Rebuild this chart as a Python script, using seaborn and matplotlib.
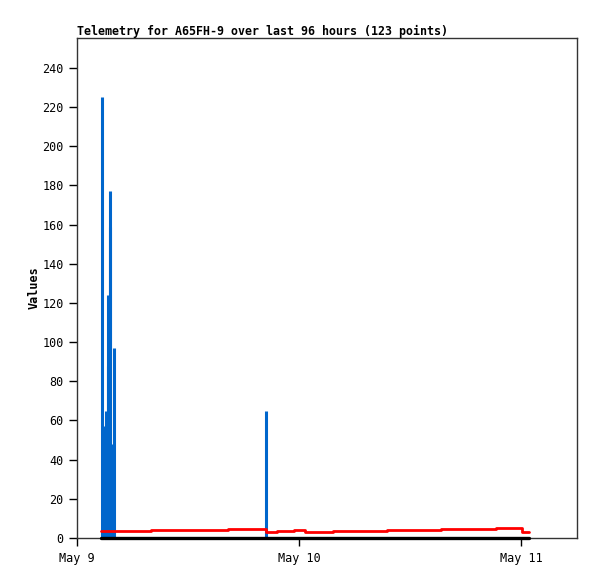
import pandas as pd
import matplotlib
matplotlib.use("Agg")
import matplotlib.pyplot as plt
import matplotlib.dates as mdates
from matplotlib.ticker import FuncFormatter
import seaborn as sns

# spike readings (hours after May 9 00:00, value)
spike_hours = [2.75, 2.9, 3.0, 3.1, 3.35, 3.4, 3.55, 3.6, 3.75, 3.95, 20.4]
spike_values = [225, 57, 18, 65, 88, 124, 159, 177, 48, 97, 65]

# step series (change points)
step_hours = [2.6, 8.0, 16.3, 20.4, 21.65, 23.5, 24.65, 27.7, 33.5, 39.35, 45.3, 48.15, 48.9]
step_values = [3.6, 4.3, 4.8, 2.9, 3.4, 3.9, 3.0, 3.4, 3.9, 4.4, 4.9, 2.9, 2.9]

# zero baseline series
base_hours = [2.6, 48.9]
base_values = [0, 0]

start = pd.Timestamp("2024-05-09")

def to_time(hours):
    return [start + pd.Timedelta(hours=h) for h in hours]

sns.set_style("white")
plt.rcParams["font.family"] = ["DejaVu Sans Mono"]
plt.rcParams["text.color"] = "black"
plt.rcParams["axes.labelcolor"] = "black"

fig = plt.figure(figsize=(5.97, 5.79), dpi=100)
ax = fig.add_axes([77 / 597, 41 / 579, 500 / 597, 500 / 579])

step_df = pd.DataFrame({"time": to_time(step_hours), "value": step_values})
base_df = pd.DataFrame({"time": to_time(base_hours), "value": base_values})

ax.vlines(to_time(spike_hours), 0, spike_values, color="#0066cc", linewidth=2.2, zorder=2)
sns.lineplot(data=step_df, x="time", y="value", color="#ff0000", linewidth=2,
             drawstyle="steps-post", ax=ax, zorder=3)
sns.lineplot(data=base_df, x="time", y="value", color="black", linewidth=2.4, ax=ax,
             zorder=5, clip_on=False)

ax.set_xlim(start, start + pd.Timedelta(hours=54.05))
ax.set_ylim(0, 255.3)
ax.set_yticks(range(0, 241, 20))
ax.xaxis.set_major_locator(mdates.DayLocator())
ax.xaxis.set_major_formatter(FuncFormatter(
    lambda v, p: f"{mdates.num2date(v):%b} {mdates.num2date(v).day}"))

ax.tick_params(direction="out", length=6, width=1, labelsize=8.5, colors="black",
               bottom=True, left=True, top=False, right=False)
ax.tick_params(axis="x", pad=4)
for s in ax.spines.values():
    s.set_color("#333333")
    s.set_linewidth(1)

ax.set_xlabel("")
ax.set_ylabel("Values", fontsize=8.5, fontweight="bold", labelpad=1)
ax.set_title("Telemetry for A65FH-9 over last 96 hours (123 points)", loc="left",
             fontsize=8.4, fontweight="bold", pad=2)

fig.savefig("out.png", dpi=100)
